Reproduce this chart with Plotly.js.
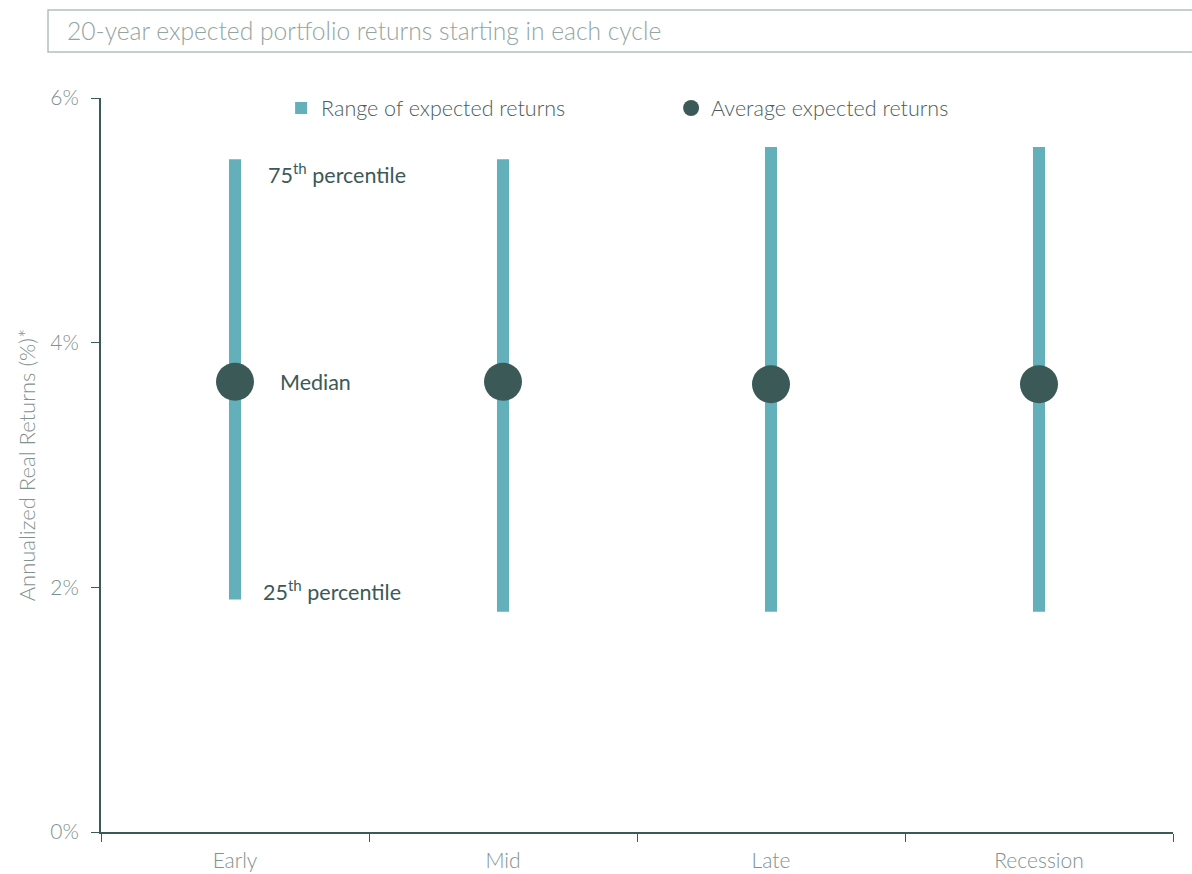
<!DOCTYPE html>
<html>
<head>
<meta charset="utf-8">
<script src="https://cdn.plot.ly/plotly-3.0.1.min.js"></script>
<style>html,body{margin:0;padding:0;background:#fff;}#chart{width:1192px;height:874px;}</style>
</head>
<body>
<div id="chart"></div>
<script>
const categories = ["Early", "Mid", "Late", "Recession"];
const p25 = [1.9, 1.8, 1.8, 1.8];
const p75 = [5.5, 5.5, 5.6, 5.6];
const median = [3.68, 3.68, 3.66, 3.66];
const yTicks = [0, 2, 4, 6];
const titleText = "20-year expected portfolio returns starting in each cycle";
const yTitle = "Annualized Real Returns (%)*";

const dark = "#3b5a57";
const teal = "#63b0ba";
const grey = "#7f928e";
const font = "Lato, 'Open Sans', sans-serif";

const rangeTrace = {
  type: "bar",
  name: "Range of expected returns",
  x: categories,
  y: p75.map((v, i) => v - p25[i]),
  base: p25,
  width: 0.045,
  marker: {color: teal},
  hoverinfo: "skip"
};
const medTrace = {
  type: "scatter",
  mode: "markers",
  name: "Average expected returns",
  x: categories,
  y: median,
  marker: {color: dark, size: 38}
};

const layout = {
  width: 1192, height: 874,
  margin: {l: 101, r: 19, t: 98, b: 42},
  paper_bgcolor: "#fff", plot_bgcolor: "#fff",
  font: {family: font, color: grey, size: 21},
  title: {text: titleText, x: 67/1192, xanchor: "left", y: 1 - 31/874, yanchor: "middle",
          font: {family: font, size: 24.6, color: "#93a5a1", weight: 300}},
  showlegend: true,
  legend: {orientation: "h", x: 0.168, xanchor: "left", y: 1 - 10/734, yanchor: "middle",
           entrywidth: 345, font: {size: 21.5, color: "#4a5d5a", weight: 300}, itemsizing: "trace"},
  xaxis: {type: "category", range: [-0.5, 3.5], tickson: "boundaries", ticks: "outside",
          ticklen: 8, tickcolor: dark, showline: true, linecolor: dark, linewidth: 2,
          ticklabelstandoff: 9,
          showgrid: false, tickfont: {size: 21, color: grey, weight: 300}, fixedrange: true},
  yaxis: {range: [0, 6], tickvals: yTicks, ticktext: yTicks.map(v => v + "%"), ticks: "outside",
          ticklen: 8, tickcolor: dark, showline: true, linecolor: dark, linewidth: 2,
          ticklabelstandoff: 8,
          showgrid: false, zeroline: false, tickfont: {size: 21, color: grey, weight: 300},
          title: {text: yTitle, standoff: 9, font: {size: 22, color: grey, weight: 300}}},
  shapes: [{type: "rect", xref: "paper", yref: "paper",
            x0: -53/1072, x1: 1.02, y0: 1 + (98 - 52)/734, y1: 1 + (98 - 10)/734,
            line: {color: "#b3c0bd", width: 1.5}, fillcolor: "rgba(0,0,0,0)"}],
  annotations: [
    {x: 0, y: p75[0], xref: "x", yref: "y", text: "75<sup>th</sup> percentile", showarrow: false,
     xanchor: "left", xshift: 31, yshift: -14, font: {size: 21.5, color: dark}},
    {x: 0, y: median[0], xref: "x", yref: "y", text: "Median", showarrow: false,
     xanchor: "left", xshift: 43, font: {size: 21.5, color: dark}},
    {x: 0, y: p25[0], xref: "x", yref: "y", text: "25<sup>th</sup> percentile", showarrow: false,
     xanchor: "left", xshift: 26, yshift: 9, font: {size: 21.5, color: dark}}
  ]
};

Plotly.newPlot("chart", [rangeTrace, medTrace], layout, {displayModeBar: false, staticPlot: true});
</script>
</body>
</html>
